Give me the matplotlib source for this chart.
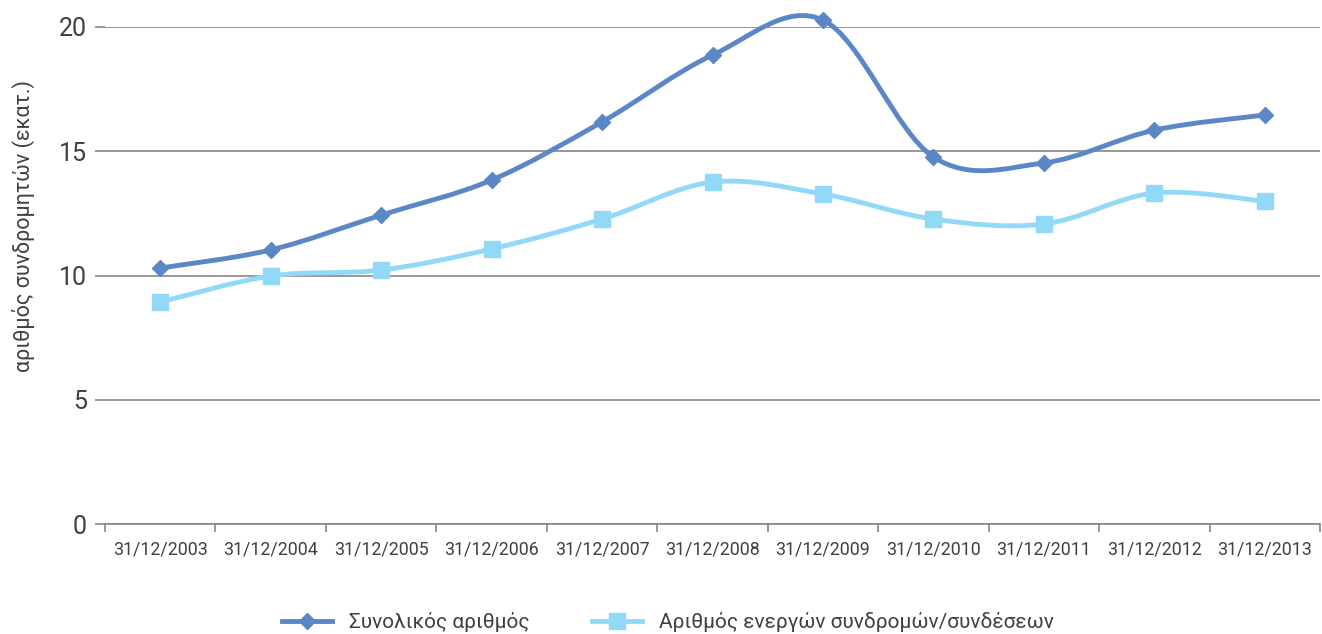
import matplotlib
matplotlib.use("Agg")
import matplotlib.pyplot as plt
from matplotlib.path import Path
from matplotlib.patches import PathPatch
from matplotlib.lines import Line2D

plt.rcParams["font.family"] = ["Roboto", "DejaVu Sans"]

dates = ["31/12/2003", "31/12/2004", "31/12/2005", "31/12/2006", "31/12/2007", "31/12/2008",
         "31/12/2009", "31/12/2010", "31/12/2011", "31/12/2012", "31/12/2013"]
total = [10.30, 11.03, 12.43, 13.84, 16.18, 18.87, 20.28, 14.77, 14.53, 15.85, 16.46]
active = [8.93, 9.98, 10.22, 11.07, 12.27, 13.76, 13.28, 12.27, 12.07, 13.32, 12.99]

dark = "#5B87C6"
light = "#92D9F8"
grey = "#868686"
txt = "#404040"


def smooth_path(xs, ys):
    # Excel-style smoothed line: cubic Bezier segments through the points
    pts = list(zip(xs, ys))
    verts = [pts[0]]
    codes = [Path.MOVETO]
    n = len(pts)
    for i in range(n - 1):
        p0 = pts[i - 1] if i > 0 else pts[i]
        p1 = pts[i]
        p2 = pts[i + 1]
        p3 = pts[i + 2] if i + 2 < n else pts[i + 1]
        c1 = (p1[0] + (p2[0] - p0[0]) / 6, p1[1] + (p2[1] - p0[1]) / 6)
        c2 = (p2[0] - (p3[0] - p1[0]) / 6, p2[1] - (p3[1] - p1[1]) / 6)
        verts += [c1, c2, p2]
        codes += [Path.CURVE4] * 3
    return Path(verts, codes)


fig = plt.figure(figsize=(13.22, 6.34), dpi=100)
ax = fig.add_axes([105 / 1322, 1 - 524 / 634, 1 - 105 / 1322 - 2 / 1322, (524 - 27) / 634])

x = list(range(len(dates)))
for vals, col, mk, ms in [(total, dark, "D", 8), (active, light, "s", 11)]:
    ax.add_patch(PathPatch(smooth_path(x, vals), facecolor="none", edgecolor=col,
                           lw=3.5, capstyle="round", joinstyle="round", zorder=3, clip_on=False))
    ax.plot(x, vals, linestyle="none", marker=mk, ms=ms, color=col, zorder=4, clip_on=False)

ax.set_xlim(-0.5, len(dates) - 0.5)
ax.set_ylim(0, 20)
ax.set_yticks([0, 5, 10, 15, 20])
ax.yaxis.grid(True, color=grey, lw=1.2)
ax.set_axisbelow(True)
for s in ["top", "right", "left"]:
    ax.spines[s].set_visible(False)
ax.spines["bottom"].set_color(grey)
ax.spines["bottom"].set_linewidth(1.2)

ax.set_xticks([i - 0.5 for i in range(len(dates) + 1)])
ax.set_xticklabels([])
ax.set_xticks(x, minor=True)
ax.set_xticklabels(dates, minor=True, fontsize=12.8, color=txt)
ax.tick_params(axis="x", which="major", length=6, color=grey, width=1.2)
ax.tick_params(axis="x", which="minor", length=0, pad=12)
ax.tick_params(axis="y", length=7, color=grey, width=1.2, labelsize=18, labelcolor=txt, pad=6)

ax.set_ylabel("αριθμός συνδρομητών (εκατ.)", fontsize=15.5, color=txt)
ax.yaxis.set_label_coords(-0.058, 0.60)

handles = [
    Line2D([], [], color=dark, lw=3.5, marker="D", ms=8),
    Line2D([], [], color=light, lw=3.5, marker="s", ms=11),
]
fig.legend(handles, ["Συνολικός αριθμός", "Αριθμός ενεργών συνδρομών/συνδέσεων"],
           loc="center", bbox_to_anchor=(668 / 1322, 1 - 622 / 634), ncol=2, frameon=False,
           fontsize=15, handlelength=2.4, columnspacing=3.0, labelcolor=txt)

fig.savefig("out.png", dpi=100)
